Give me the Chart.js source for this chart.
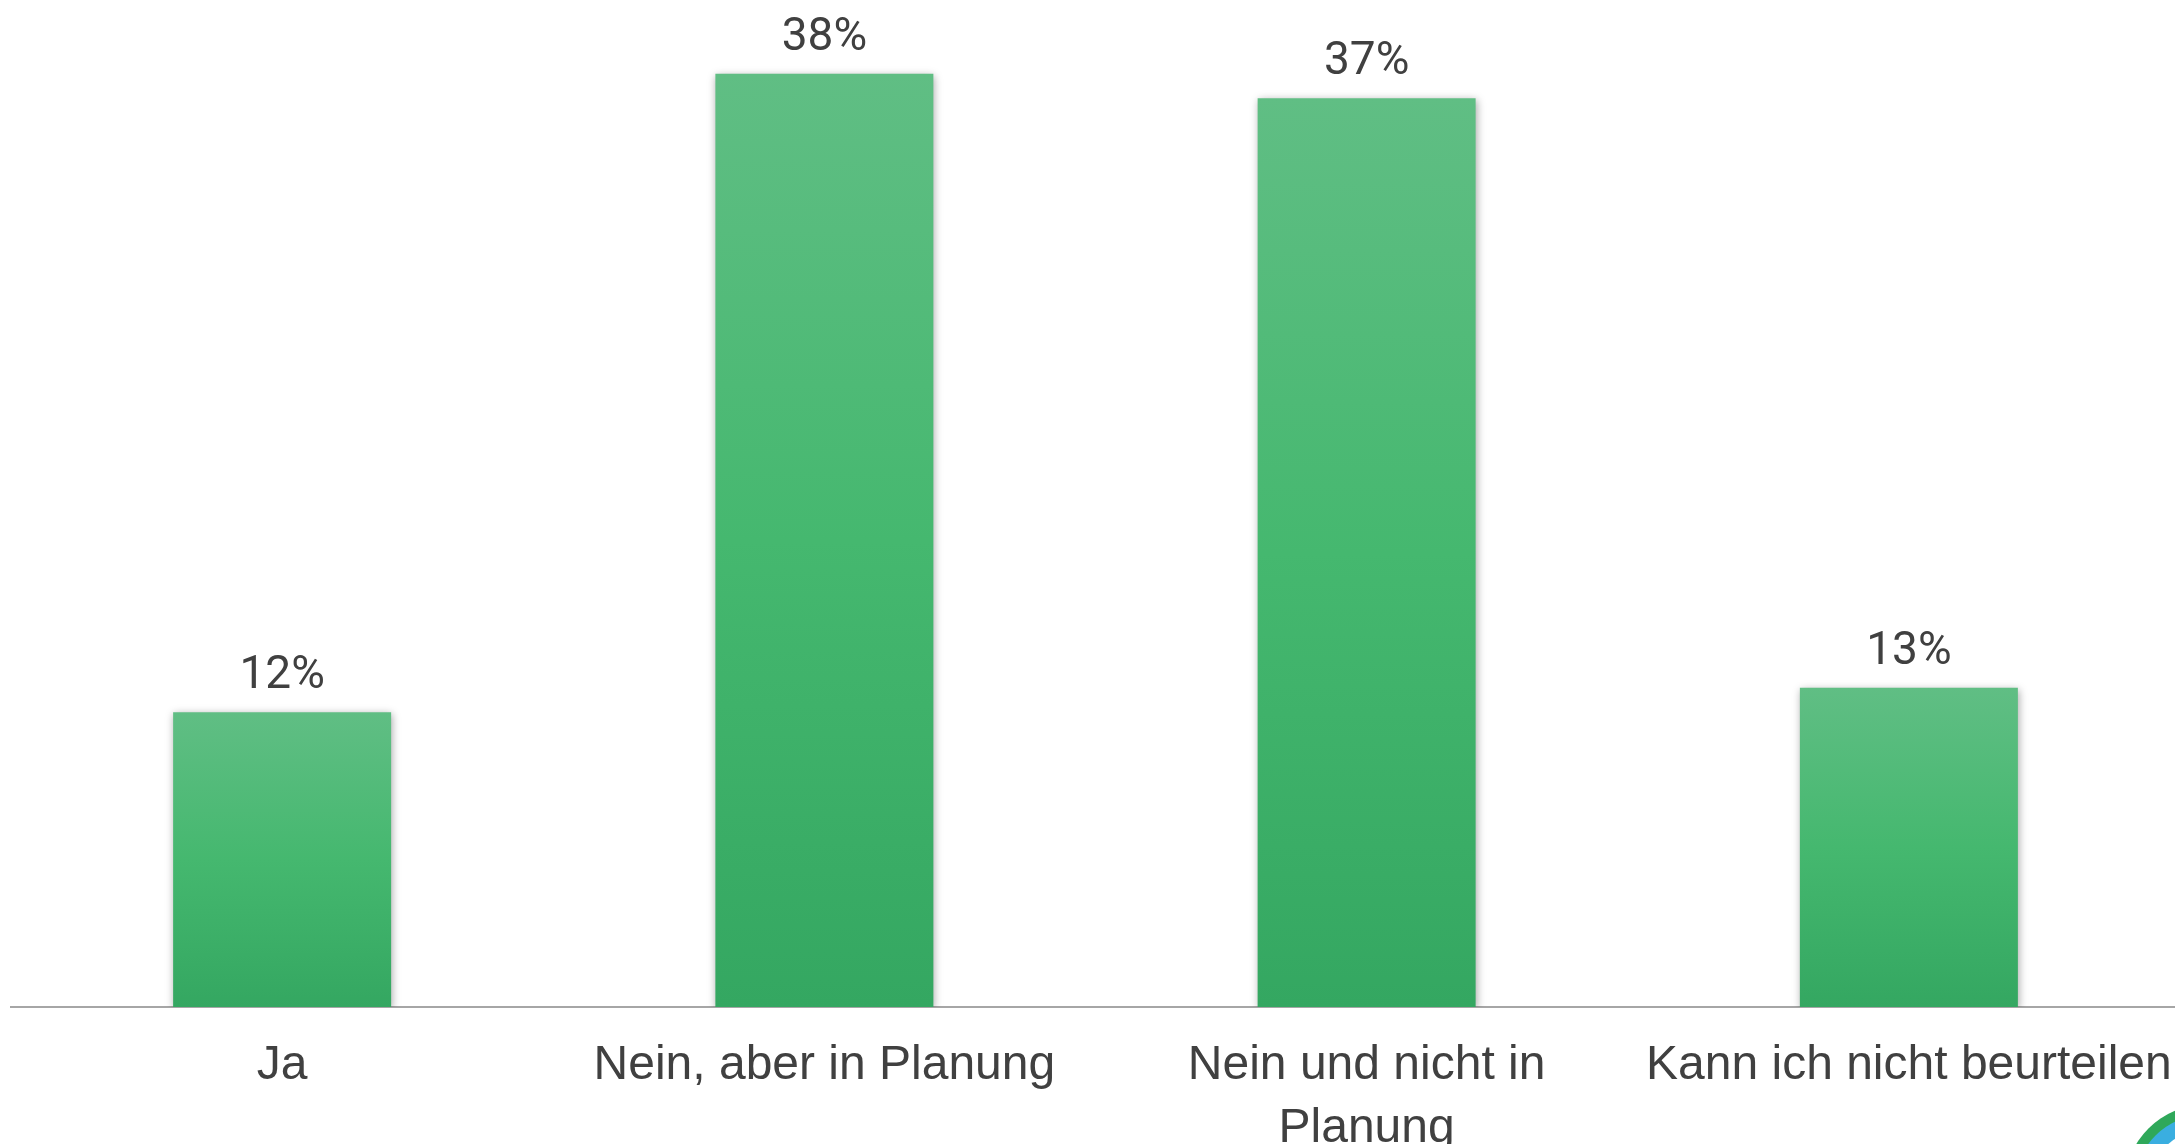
<!DOCTYPE html>
<html>
<head>
<meta charset="utf-8">
<script src="https://cdn.jsdelivr.net/npm/chart.js@4/dist/chart.umd.min.js"></script>
<style>
  html, body { margin: 0; padding: 0; background: #fff; overflow: hidden; }
  #wrap { width: 2175px; height: 1144px; overflow: hidden; }
</style>
</head>
<body>
<div id="wrap"><canvas id="barChart" width="2180" height="1144"></canvas></div>
<script>
categories = ["Ja", "Nein, aber in Planung", ["Nein und nicht in", "Planung"], "Kann ich nicht beurteilen"];
shares = [12, 38, 37, 13];
shareLabels = ["12%", "38%", "37%", "13%"];

function barGradient(ctx) {
    const chart = ctx.chart;
    if (!chart.chartArea) return '#45b86f';
    const y = chart.scales.y;
    const yTop = y.getPixelForValue(ctx.raw);
    const yBottom = y.getPixelForValue(0);
    if (!isFinite(yTop) || !isFinite(yBottom)) return '#45b86f';
    const g = chart.ctx.createLinearGradient(0, yTop, 0, yBottom);
    g.addColorStop(0, '#60be84');
    g.addColorStop(0.5, '#45b86f');
    g.addColorStop(1, '#34a761');
    return g;
}

const barShadow = {
    id: 'barShadow',
    beforeDatasetsDraw(chart) {
        const c = chart.ctx;
        c.save();
        c.shadowColor = 'rgba(0,0,0,0.35)';
        c.shadowBlur = 8;
        c.shadowOffsetX = 1;
        c.shadowOffsetY = 2;
    },
    afterDatasetsDraw(chart) {
        chart.ctx.restore();
    }
};

const valueLabels = {
    id: 'valueLabels',
    afterDatasetsDraw(chart) {
        const c = chart.ctx;
        const meta = chart.getDatasetMeta(0);
        c.save();
        c.font = '400 46px Roboto';
        c.fillStyle = '#404040';
        c.textAlign = 'center';
        c.textBaseline = 'alphabetic';
        meta.data.forEach((bar, i) => {
            c.fillText(shareLabels[i], bar.x, bar.y - 24);
        });
        c.restore();
    }
};

const cornerLogo = {
    id: 'cornerLogo',
    afterDraw(chart) {
        const c = chart.ctx;
        c.save();
        c.beginPath(); c.arc(2205, 1185, 80, 0, Math.PI * 2); c.fillStyle = '#2fa85a'; c.fill();
        c.beginPath(); c.arc(2205, 1185, 70, 0, Math.PI * 2); c.fillStyle = '#3aaee0'; c.fill();
        c.beginPath(); c.arc(2205, 1185, 55, 0, Math.PI * 2); c.fillStyle = '#ffffff'; c.fill();
        c.restore();
    }
};

barChart = new Chart(document.getElementById('barChart'), {
    type: 'bar',
    data: {
        labels: categories,
        datasets: [{
            data: shares,
            backgroundColor: barGradient,
            borderWidth: 0,
            barPercentage: 0.402,
            categoryPercentage: 1
        }]
    },
    options: {
        responsive: false,
        animation: false,
        layout: { padding: { left: 11, right: 0, top: 0, bottom: 0 } },
        plugins: {
            legend: { display: false },
            tooltip: { enabled: false }
        },
        scales: {
            x: {
                grid: { display: false, drawTicks: false },
                border: { display: true, color: '#a6a6a6', width: 2 },
                ticks: {
                    color: '#404040',
                    font: { family: '"Liberation Sans", Arial, sans-serif', size: 48, lineHeight: 1.3 },
                    padding: 28,
                    maxRotation: 0,
                    autoSkip: false
                },
                afterFit: s => {
                    s.height = 137;
                    s.paddingLeft = 0;
                    s.paddingRight = 0;
                }
            },
            y: {
                display: false,
                min: 0,
                max: 41
            }
        }
    },
    plugins: [barShadow, valueLabels, cornerLogo]
});
</script>
</body>
</html>
